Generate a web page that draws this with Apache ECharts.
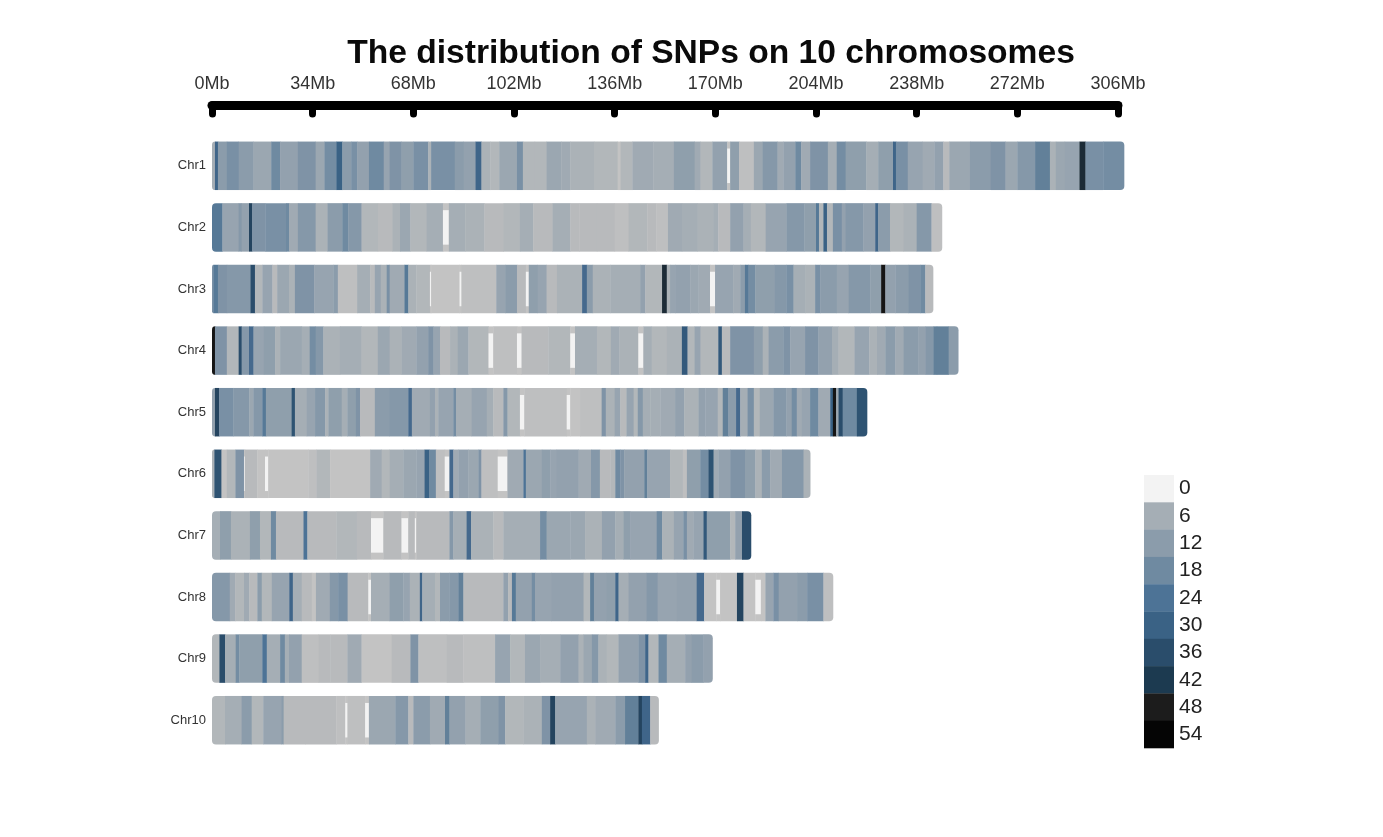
<!DOCTYPE html>
<html><head><meta charset="utf-8">
<style>html,body{margin:0;padding:0;background:#fff}#c{width:1383px;height:837px;filter:blur(0.6px)}</style>
<script src="https://cdn.jsdelivr.net/npm/echarts@6/dist/echarts.min.js"></script>
</head><body><div id="c"></div>
<script>
const titleText = 'The distribution of SNPs on 10 chromosomes';
const chromosomes = ['Chr1','Chr2','Chr3','Chr4','Chr5','Chr6','Chr7','Chr8','Chr9','Chr10'];
const legendTicks = [0,6,12,18,24,30,36,42,48,54];
// each pair: [segment end in Mb, SNP count]
const chr1 = [[1,6],[2,27],[5,12],[9,15],[14,12],[20,8],[23,17],[29,10],[35,14],[38,8],[42,16],[44,30],[47,12],[49,15],[53,10],[58,17],[60,9],[64,14],[68,11],[73,15],[74,5],[82,15],[85,12],[89,10],[91,28],[94,5],[97,4],[103,8],[105,15],[109,4],[113,4],[118,8],[121,7],[129,5],[137,4],[138,1],[142,4],[149,7],[156,6],[163,11],[165,7],[169,4],[174,10],[175,0],[178,11],[183,2],[186,8],[191,13],[193,7],[197,10],[199,17],[202,7],[208,14],[211,6],[214,16],[221,11],[225,6],[230,11],[231,28],[235,15],[240,9],[244,7],[247,10],[249,3],[256,8],[263,12],[268,14],[272,8],[278,13],[283,19],[285,5],[288,8],[293,9],[295,45],[301,15],[308,16]];
const chr2 = [[3.5,22],[9,9],[10,13],[12.5,10],[13.5,38],[18,14],[25,15],[26,18],[29,7],[35,13],[39,5],[44,12],[46,17],[50.5,13],[56,4],[61,3],[63.5,5],[67,8],[72.5,4],[78,6],[80,0],[85.5,6],[92,5],[98.5,3],[104,4],[108.5,6],[115,3],[121,6],[124,3],[130,3],[136,3],[140.7,2],[147,4],[150,3],[154,2],[158.7,7],[164,6],[169.4,5],[171,6],[175,3],[179.5,10],[182,6],[187,4],[194,9],[200,13],[204,11],[205,22],[206.5,4],[207.7,30],[209.7,4],[212.7,15],[214,10],[220,13],[224,10],[225,28],[229,12],[233.6,4],[238,5],[243,13],[246.5,2]];
const chr3 = [[0.5,15],[2,22],[5,14],[13,13],[14.5,35],[17,4],[20.4,9],[22,3],[26,8],[28,5],[34.5,14],[41,9],[42.5,12],[49,2],[53.4,6],[55,3],[57,9],[59,5],[60,15],[65,7],[66.3,22],[69,5],[73.6,4],[74,0],[83.6,1],[84.3,0],[96,2],[99,9],[103,12],[106,3],[107,0],[110,11],[113,9],[116.5,3],[125,5],[126.6,26],[128.6,12],[134.5,5],[144.6,6],[146.3,10],[152,4],[153.6,45],[154.7,5],[156.4,9],[161.5,10],[164.3,8],[168.2,7],[169.9,0],[176,9],[178.4,7],[180,12],[181.2,22],[183.5,16],[190,11],[194,13],[196.4,15],[200.3,6],[203.7,5],[205.4,15],[211,12],[215,9],[222.3,13],[226,11],[227.4,50],[230.8,10],[235.3,12],[239.2,14],[240.9,18],[243.5,3]];
const chr4 = [[1,50],[5,14],[9,4],[10,35],[12.5,13],[14,26],[17.5,9],[21.3,11],[23,5],[30.3,8],[33,6],[35,16],[37.6,13],[43.2,5],[50.5,6],[56,4],[60,8],[64,5],[69,7],[73,10],[74.8,14],[77,9],[80.4,3],[83,5],[86.6,8],[93.4,4],[95,0],[103,2],[104.6,0],[113.6,3],[121,4],[122.6,0],[130,6],[134.7,4],[137.6,7],[144,5],[145.7,0],[148.5,6],[153.6,4],[158.7,5],[160.6,32],[163,4],[165,9],[171,4],[172.2,32],[175,3],[183,14],[186,11],[188,5],[193,12],[195.3,14],[200.3,9],[204.8,14],[209.4,10],[211.6,6],[217,4],[222,9],[224.6,5],[227.4,7],[230.8,12],[233.6,7],[238.6,12],[241,10],[243.7,13],[244.8,19],[248.8,20],[252,12]];
const chr5 = [[1,10],[2.4,38],[7.2,15],[12.6,13],[14,8],[17,13],[18.2,22],[26.9,11],[28,34],[32,6],[34.8,9],[38.2,13],[39.3,5],[43.8,11],[45.7,6],[48.6,11],[50,14],[55,3],[60,12],[66.3,13],[67.5,25],[73.6,7],[75.3,10],[76.4,5],[81.5,9],[82.4,16],[87.7,6],[92.8,9],[95,6],[98.4,3],[99.8,13],[104,4],[105.5,0],[119.8,2],[121,0],[124.3,1],[131.6,2],[133,14],[136,5],[137.9,9],[140,3],[142.4,9],[143.8,4],[145.5,13],[148,6],[151.4,6],[156.4,7],[159.5,10],[164.3,5],[166.6,10],[170.8,9],[172.5,4],[174.4,20],[177,12],[178.4,26],[180.9,6],[183,15],[185,4],[189.6,8],[194,13],[195.8,10],[197.5,16],[199.2,7],[202,9],[204.8,18],[208.8,7],[209.7,30],[210.8,50],[211.6,8],[213,35],[217.8,17],[221.2,34]];
const chr6 = [[0.8,5],[3.2,34],[5,1],[7.9,4],[10.8,14],[11.1,0],[15.3,3],[17.9,1],[19,0],[32.5,1],[35.3,2],[39.9,4],[53.4,1],[57.3,7],[60,4],[64.6,6],[69,8],[71.8,9],[73.3,30],[75.6,18],[78.6,2],[80.2,0],[81.5,25],[83.2,7],[86.6,10],[90,8],[91,14],[96.5,2],[99.8,0],[105.2,7],[106,24],[111.4,8],[114.2,11],[116.4,9],[123.8,10],[128,7],[131,13],[134.5,3],[136.2,4],[137.9,18],[139.2,14],[146,10],[147,19],[154.7,9],[159,4],[160.4,2],[164.9,11],[167.7,16],[169.4,34],[171,7],[175,10],[180,14],[183.5,11],[185.7,5],[188.5,12],[192.5,7],[199.8,13],[202,5]];
const chr7 = [[2.7,6],[6.4,11],[12.8,5],[16.2,11],[19.9,4],[21.6,18],[30.9,3],[32.2,24],[42,3],[48.9,4],[53.7,3],[57.9,0],[64,3],[66.3,0],[68.5,3],[69,0],[80.2,3],[81.5,13],[86,6],[87.5,25],[95,5],[98.4,3],[110.8,6],[113,16],[121,8],[126,8],[131.7,5],[136.2,10],[139,6],[141.2,11],[150.2,9],[152,18],[156,5],[159.2,9],[160.4,15],[162.6,7],[166,9],[167.1,32],[175,11],[176.7,4],[179,10],[182,36]];
const chr8 = [[6,13],[7.8,7],[10.8,4],[12.6,7],[15.3,3],[16.8,12],[20.2,4],[26.1,9],[27.3,27],[30.3,6],[33.7,3],[35.1,1],[39.8,7],[42.6,13],[45.8,15],[52.8,3],[53.7,0],[60,6],[64.6,11],[66.8,9],[70.2,5],[71,28],[75.3,6],[77,4],[80.2,12],[83.2,13],[84.9,20],[98.4,3],[100,10],[101.3,3],[102.6,22],[108,10],[109.1,16],[114.7,9],[125.5,10],[127.7,4],[129,20],[133.3,10],[136.2,11],[137.3,28],[140.7,6],[146.8,10],[150.5,13],[157,9],[163.7,10],[166.2,26],[170.3,1],[171.6,0],[177.3,1],[179.5,37],[183.5,1],[185.4,0],[186.9,1],[189.6,9],[191.4,15],[197.6,10],[201,12],[206.5,15],[209.7,2]];
const chr9 = [[2.5,4],[4.4,36],[8,6],[9.2,16],[17,11],[18.5,24],[23,6],[24.6,18],[26,6],[30.3,10],[36,2],[40,3],[45.7,3],[50.5,7],[60.7,1],[67,3],[69.7,14],[79.3,2],[84.9,3],[95.6,2],[100.7,9],[105.7,4],[110.8,8],[117.6,6],[123.8,10],[125.5,5],[128.3,8],[130.5,13],[133.3,5],[137.3,4],[144,10],[146.3,14],[147.4,28],[150.8,4],[153.6,17],[159.8,6],[162,10],[166,12],[169,10]];
const chr10 = [[4.4,4],[10,6],[13.4,12],[17.3,4],[23.5,9],[24.2,12],[31.4,3],[42,3],[45,2],[45.8,0],[51.7,2],[53,0],[61.9,8],[66.3,13],[68,3],[73.6,12],[78.7,7],[80.2,20],[85.6,10],[90.6,6],[96.8,11],[99,14],[105.2,4],[111.4,5],[114.2,14],[115.9,38],[126.6,9],[129.4,5],[136.2,7],[139.5,12],[144,20],[145.2,38],[148,28],[150.8,3]];
const rows = [chr1,chr2,chr3,chr4,chr5,chr6,chr7,chr8,chr9,chr10];
const maxMb = 306, stepMb = 34;
const colourSteps = [[0,'#f3f3f3'],[1,'#c3c3c3'],[2,'#bebfc0'],[3,'#b8babc'],[4,'#b2b7ba'],[5,'#abb2b7'],[6,'#a5aeb5'],[7,'#a0aab3'],[8,'#9ba7b1'],[9,'#97a4b0'],[10,'#93a1ae'],[11,'#8f9fac'],[12,'#8b9cab'],[13,'#8598a9'],[14,'#7f93a6'],[15,'#7990a5'],[16,'#748da3'],[18,'#6f8aa1'],[20,'#628099'],[22,'#567997'],[24,'#4d7396'],[26,'#45698d'],[28,'#3f6589'],[30,'#3a6285'],[32,'#33597b'],[34,'#2e5372'],[36,'#2a4d6b'],[38,'#24445f'],[42,'#1c3a50'],[45,'#1c2b36'],[48,'#1c1c1c'],[50,'#151515'],[54,'#050505']];

const segData = [];
rows.forEach((segs, r) => { let s = 0; segs.forEach((p, i) => {
  segData.push([r, s, p[0], p[1], i === 0 ? 1 : 0, i === segs.length - 1 ? 1 : 0]); s = p[0];
});});
const pieces = colourSteps.map((c, i) => i === 0 ? {lte:c[0], color:c[1]} : {gt:colourSteps[i-1][0], lte:c[0], color:c[1]});

const chart = echarts.init(document.getElementById('c'), null, {renderer:'canvas'});
const font = 'Liberation Sans';
chart.setOption({
  animation:false,
  backgroundColor:'#fff',
  textStyle:{fontFamily:font},
  title:{text:titleText,left:706,top:32,textAlign:'center',textStyle:{fontFamily:font,fontWeight:'bold',fontSize:33.6,color:'#0a0a0a'}},
  grid:[{left:212,top:135,width:906,height:616},{left:1144,top:475,width:30,height:273}],
  xAxis:[
    {gridIndex:0,type:'value',position:'top',offset:30,min:0,max:maxMb,interval:stepMb,
     axisLine:{show:true,lineStyle:{color:'#000',width:9,cap:'round'}},
     axisTick:{show:true,inside:true,length:9,lineStyle:{color:'#000',width:7,cap:'round'}},
     axisLabel:{fontFamily:font,fontSize:18,color:'#333',margin:12,formatter:v=>v+'Mb',hideOverlap:false},
     splitLine:{show:false}},
    {gridIndex:1,type:'value',min:0,max:1,show:false}
  ],
  yAxis:[
    {gridIndex:0,type:'category',inverse:true,data:chromosomes,axisLine:{show:false},axisTick:{show:false},
     axisLabel:{fontFamily:font,fontSize:13,color:'#333',margin:6,padding:[4,0,0,0]}},
    {gridIndex:1,type:'category',inverse:true,position:'right',data:legendTicks.map(String),axisLine:{show:false},axisTick:{show:false},
     axisLabel:{fontFamily:font,fontSize:21,color:'#222',margin:5,align:'left',padding:[6,0,0,0]}}
  ],
  visualMap:[{type:'piecewise',show:false,dimension:3,seriesIndex:[0,1],pieces:pieces}],
  series:[
    {type:'custom',xAxisIndex:0,yAxisIndex:0,data:segData,encode:{x:[1,2],y:0},clip:false,
     renderItem:(p,api)=>{
       const a=api.coord([api.value(1),api.value(0)]), b=api.coord([api.value(2),api.value(0)]);
       const h=48.5, y=a[1]-h/2, x=a[0], w=b[0]-a[0]+0.4;
       const first=api.value(4), last=api.value(5), v=api.value(3);
       const r=[first?4:0,last?4:0,last?4:0,first?4:0];
       if(v===0){
         return {type:'group',children:[
           {type:'rect',shape:{x,y,width:w,height:h},style:{fill:'#c3c3c3'}},
           {type:'rect',shape:{x,y:y+7,width:w-0.4,height:h-14},style:{fill:api.visual('color')}}
         ]};
       }
       return {type:'rect',shape:{x,y,width:w,height:h,r},style:{fill:api.visual('color')}};
     }},
    {type:'custom',xAxisIndex:1,yAxisIndex:1,encode:{x:[1,2],y:0},clip:false,
     data:legendTicks.map((t,i)=>[i,0,1,t]),
     renderItem:(p,api)=>{
       const a=api.coord([0,api.value(0)]), b=api.coord([1,api.value(0)]), h=api.size([0,1])[1];
       return {type:'rect',shape:{x:a[0],y:a[1]-h/2,width:b[0]-a[0],height:h+0.3},style:{fill:api.visual('color')}};
     }}
  ]
});
</script></body></html>
